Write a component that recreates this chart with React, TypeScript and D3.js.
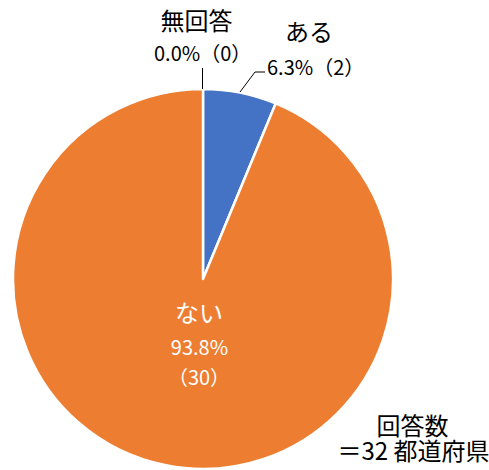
import React from "react";
import * as d3 from "d3";

const categories = ["ある", "ない", "無回答"];
const counts = [2, 30, 0];
const colors = ["#4472C4", "#ED7D31", "#A5A5A5"];
const percentLabels = ["6.3%", "93.8%", "0.0%"];
const noteLines = ["回答数", "＝32 都道府県"];

export default function App() {
  const W = 489, H = 470;
  const cx = 203, cy = 279, r = 190;
  const pie = d3.pie<number>().sort(null).value((d) => d)(counts);
  const arc = d3.arc<d3.PieArcDatum<number>>().innerRadius(0).outerRadius(r);
  const font = "'Noto Sans CJK JP', 'Noto Sans', sans-serif";
  const jp = 24;
  const num = 20;
  return (
    <svg width={W} height={H} style={{ position: "absolute", left: 0, top: 0 }} fontFamily={font}>
      <rect width={W} height={H} fill="#fff" />
      <g transform={`translate(${cx},${cy})`}>
        {pie.map((p, i) =>
          p.value > 0 ? (
            <path key={i} d={arc(p) || ""} fill={colors[i]} stroke="#fff" strokeWidth={2.5} strokeLinejoin="round" />
          ) : null
        )}
      </g>
      {/* leader lines */}
      <line x1={202.5} y1={68} x2={202.5} y2={89} stroke="#000" strokeWidth={1} />
      <polyline points="240,92 255,72 265,72" fill="none" stroke="#000" strokeWidth={1} />
      {/* 無回答 */}
      <text x={196.5} y={30} textAnchor="middle" fontSize={jp} fill="#000">{categories[2]}</text>
      <text x={154} y={61} fontSize={num} fill="#000">{`${percentLabels[2]}（${counts[2]}）`}</text>
      {/* ある */}
      <text x={309} y={41} textAnchor="middle" fontSize={jp} fill="#000">{categories[0]}</text>
      <text x={267} y={75} fontSize={num} fill="#000">{`${percentLabels[0]}（${counts[0]}）`}</text>
      {/* ない */}
      <text x={199} y={322} textAnchor="middle" fontSize={jp} fill="#fff">{categories[1]}</text>
      <text x={199.5} y={355} textAnchor="middle" fontSize={num} fill="#fff">{percentLabels[1]}</text>
      <text x={199} y={385} textAnchor="middle" fontSize={num} fill="#fff">{`（${counts[1]}）`}</text>
      {/* note */}
      <text textAnchor="middle" fontSize={jp} fill="#000">
        <tspan x={412.5} y={435}>{noteLines[0]}</tspan>
        <tspan x={413.5} y={460}>{noteLines[1]}</tspan>
      </text>
    </svg>
  );
}
